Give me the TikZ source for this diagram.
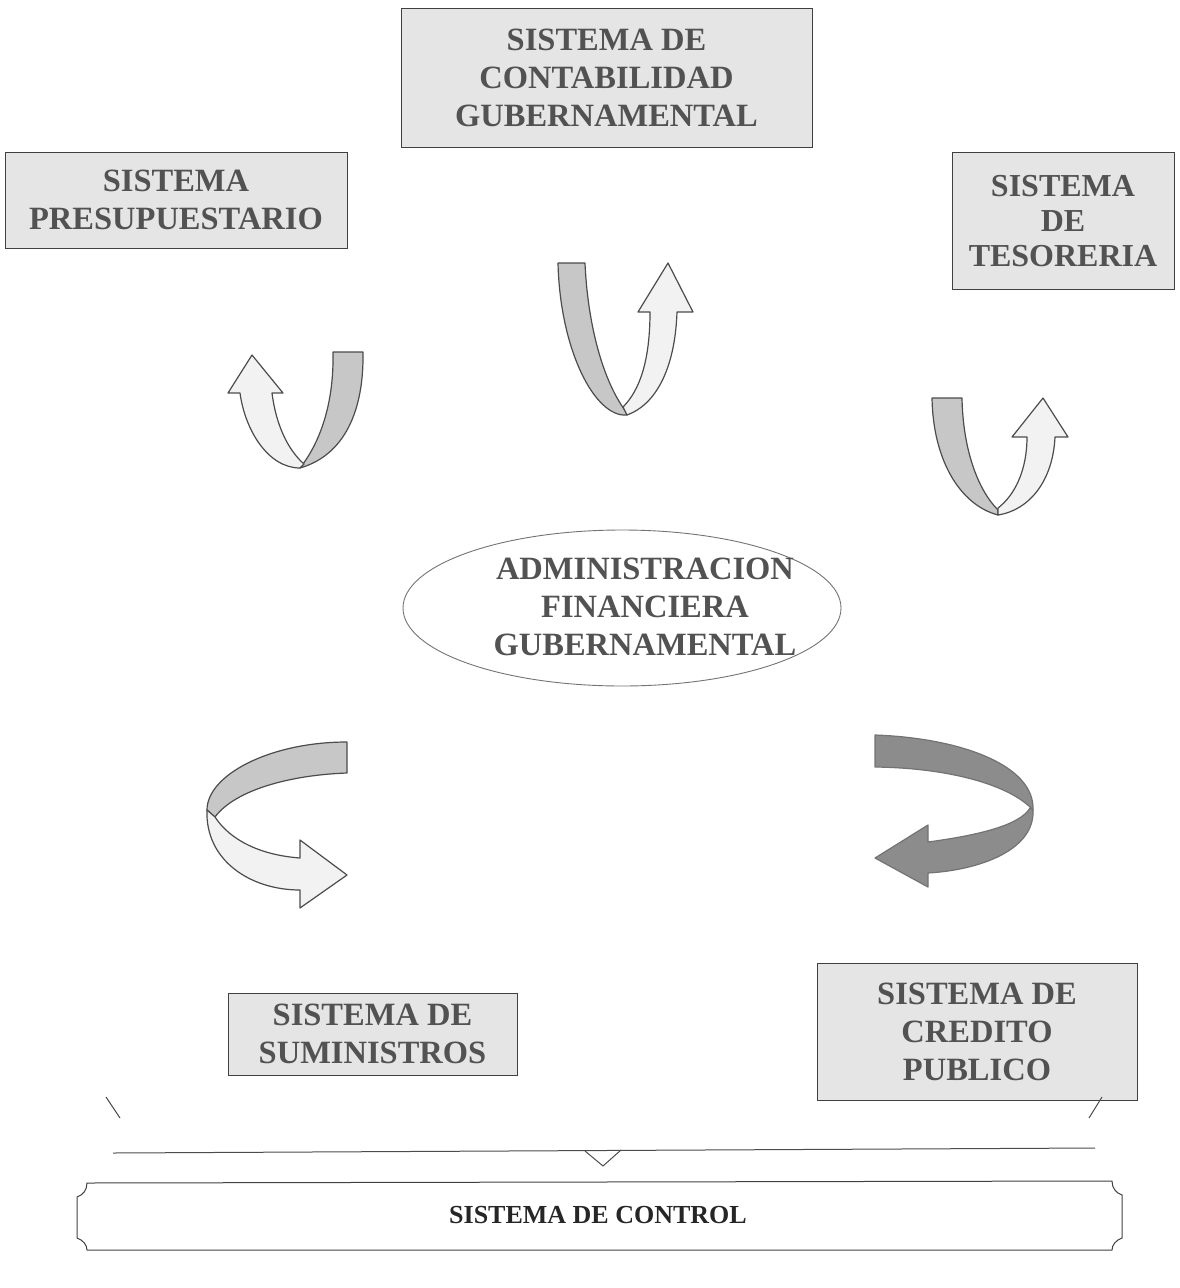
\documentclass[tikz,border=0pt]{standalone}
\usepackage{fontspec}
\setmainfont{Liberation Serif}
\begin{document}
\begin{tikzpicture}[x=1pt,y=-1pt,
  box/.style={draw=black!75, line width=1pt, fill=black!10, inner sep=0pt, align=center,
    font=\bfseries\fontsize{32.5}{38}\selectfont, text=black!68},
  ovaltext/.style={inner sep=0pt, align=center,
    font=\bfseries\fontsize{32.5}{38}\selectfont, text=black!68},
  band/.style={draw=black!70, line width=1.2pt, fill=black!22, line join=round},
  arm/.style={draw=black!70, line width=1.2pt, fill=black!5, line join=round},
  darkarrow/.style={draw=black!55, line width=1.2pt, fill=black!45, line join=round},
  brace/.style={draw=black!70, line width=1pt}]
\useasboundingbox (0,0) rectangle (1179,1288);

% boxes
\node[box, minimum width=411pt, minimum height=139pt] (conta) at (606.5,77.5) {SISTEMA DE\\CONTABILIDAD\\GUBERNAMENTAL};
\node[box, minimum width=342pt, minimum height=96pt] (presu) at (176,200) {SISTEMA\\PRESUPUESTARIO};
\node[box, minimum width=222pt, minimum height=137pt, font=\bfseries\fontsize{32}{35}\selectfont] (teso) at (1063,221) {SISTEMA\\DE\\TESORERIA};
\draw[draw=black!55, line width=0.9pt] (622,608) ellipse [x radius=219, y radius=78];
\node[ovaltext] (afg) at (645,607) {ADMINISTRACION\\FINANCIERA\\GUBERNAMENTAL};
\node[box, minimum width=289pt, minimum height=82pt] (sumi) at (372.5,1034) {SISTEMA DE\\SUMINISTROS};
\node[box, minimum width=320pt, minimum height=137pt] (cred) at (977,1031.5) {SISTEMA DE\\CREDITO\\PUBLICO};

% upper-left ribbon arrow
\draw[band] (333,352) -- (363,352) .. controls (364,410) and (345,455) .. (300,468)
  .. controls (322,440) and (334,400) .. (333,352) -- cycle;
\draw[arm] (300,468) .. controls (268,468) and (245,430) .. (240,393) -- (228,393) -- (252,355)
  -- (283,393) -- (272,393) .. controls (276,425) and (288,450) .. (304,464) -- cycle;

% upper-middle ribbon arrow
\draw[band] (558,263) -- (585,263) .. controls (588,330) and (605,385) .. (627,413)
  -- (627,415) .. controls (595,418) and (560,350) .. (558,263) -- cycle;
\draw[arm] (627,415) .. controls (655,405) and (675,370) .. (677,312) -- (693,312) -- (668,263)
  -- (638,312) -- (650,312) .. controls (650,360) and (640,390) .. (623,407) -- cycle;

% upper-right ribbon arrow
\draw[band] (932,398) -- (962,398) .. controls (963,450) and (978,490) .. (998,510)
  -- (998,515) .. controls (960,505) and (933,460) .. (932,398) -- cycle;
\draw[arm] (998,515) .. controls (1030,510) and (1053,480) .. (1055,437) -- (1068,437) -- (1043,398)
  -- (1012,437) -- (1027,437) .. controls (1027,470) and (1015,495) .. (998,508) -- cycle;

% lower-left ribbon arrow
\draw[band] (347,742) -- (347,773) .. controls (290,775) and (235,790) .. (215,817)
  -- (207,810) .. controls (207,775) and (270,742) .. (347,742) -- cycle;
\draw[arm] (207,810) .. controls (205,860) and (250,890) .. (300,890) -- (300,908) -- (347,875)
  -- (300,840) -- (300,858) .. controls (260,855) and (230,840) .. (215,817) -- cycle;

% lower-right ribbon arrow
\draw[darkarrow] (875,735) .. controls (960,738) and (1035,765) .. (1033,810)
  .. controls (1010,785) and (950,768) .. (875,767) -- cycle;
\draw[darkarrow] (1033,810) .. controls (1035,850) and (980,870) .. (928,873) -- (928,887) -- (875,858)
  -- (928,825) -- (928,842) .. controls (980,835) and (1020,825) .. (1030,808) -- cycle;

% brace
\coordinate (bl1) at (106,1097);
\coordinate (bl2) at (120,1118);
\coordinate (br1) at (1102,1097);
\coordinate (br2) at (1089,1118);
\coordinate (hl) at (113,1153);
\coordinate (hr) at (1095,1148);
\coordinate (v1) at (585,1151);
\coordinate (v2) at (603,1166);
\coordinate (v3) at (621,1150);
\draw[brace] (bl1) -- (bl2);
\draw[brace] (br1) -- (br2);
\draw[brace] (hl) -- (hr);
\draw[brace] (v1) -- (v2) -- (v3);

% control box
\draw[draw=black!75, line width=1pt] (87,1183) -- (1112,1181) .. controls (1112,1188) and (1116,1193) .. (1122,1195)
  -- (1122,1238) .. controls (1116,1240) and (1112,1245) .. (1112,1250) -- (87,1250)
  .. controls (87,1245) and (83,1240) .. (77,1238) -- (77,1197) .. controls (83,1195) and (87,1190) .. (87,1183) -- cycle;
\node[font=\bfseries\fontsize{26}{30}\selectfont, text=black!85] (ctrl) at (598,1215) {SISTEMA DE CONTROL};
\end{tikzpicture}
\end{document}
